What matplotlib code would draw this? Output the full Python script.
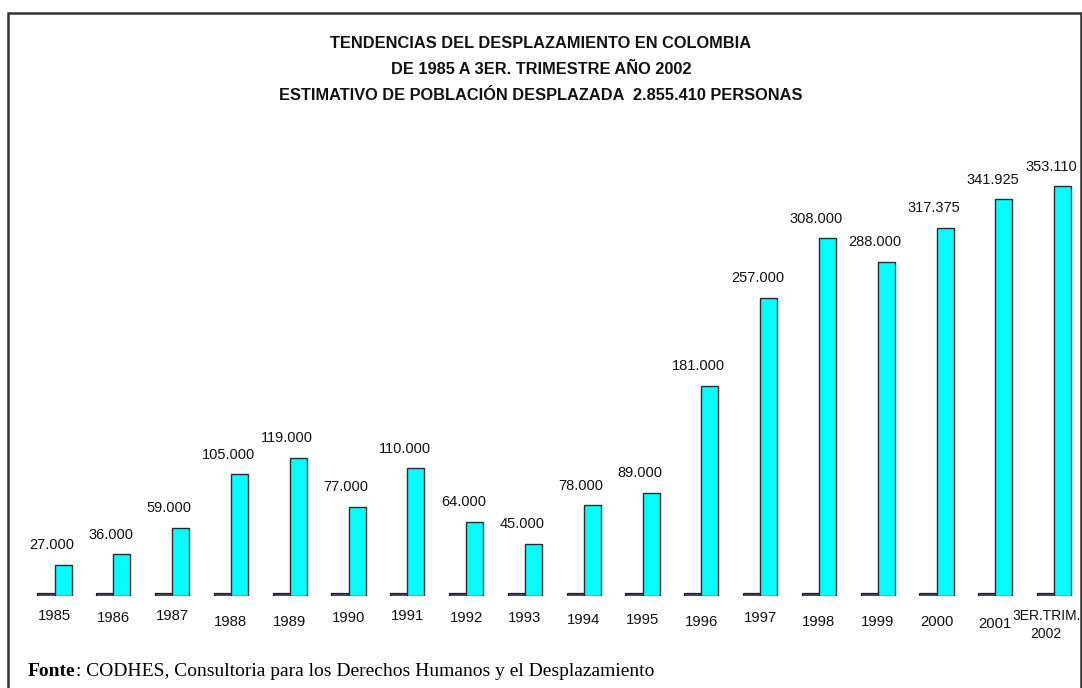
import matplotlib.pyplot as plt
import matplotlib.patches as mpatches
import matplotlib.transforms as mtransforms
import numpy as np

years = ['1985', '1986', '1987', '1988', '1989', '1990', '1991', '1992', '1993',
         '1994', '1995', '1996', '1997', '1998', '1999', '2000', '2001', '3ER.TRIM.\n2002']
desplazados = [27000, 36000, 59000, 105000, 119000, 77000, 110000, 64000, 45000,
               78000, 89000, 181000, 257000, 308000, 288000, 317375, 341925, 353110]
# the flat dark bar next to each cyan bar (almost zero)
serie_base = [2500] * 18
etiquetas = ['27.000', '36.000', '59.000', '105.000', '119.000', '77.000', '110.000', '64.000',
             '45.000', '78.000', '89.000', '181.000', '257.000', '308.000', '288.000',
             '317.375', '341.925', '353.110']

W, H = 1082, 688
fig = plt.figure(figsize=(W / 100, H / 100), dpi=100)
fig.patch.set_facecolor('white')

# axes placed in pixels: groups every ~58.8 px, baseline at y=596
left, right = 31, 1080.6
base, top = 596, 131.6
ax = fig.add_axes([left / W, (H - base) / H, (right - left) / W, (base - top) / H])

x = np.arange(len(years))
w = 0.29
ax.bar(x - w / 2, serie_base, width=w, color='#4b4b6e', edgecolor='#1a1a1a', linewidth=0.9)
ax.bar(x + w / 2, desplazados, width=w, color='#00ffff', edgecolor='#2a2a2a', linewidth=1.0)

for xi, v, t in zip(x, desplazados, etiquetas):
    ax.annotate(t, (xi, v), xytext=(-2, 9), textcoords='offset points',
                ha='center', va='bottom', fontsize=10.5, family='Liberation Sans',
                color='#111111')

ax.set_xlim(-0.4, 17.45)
ax.set_ylim(0, 400000)
ax.set_xticks(x)
ax.set_xticklabels(years, fontsize=10.7, family='Liberation Sans', color='#111111',
                   linespacing=1.45)
ax.tick_params(axis='x', length=0, pad=9)
# the year labels in the original sit at slightly uneven heights (pixels down)
bajada = [0, 2, 0, 6, 6, 2, 0, 3, 3, 4, 4, 7, 2, 7, 6, 6, 9, 0]
for lab, d in zip(ax.get_xticklabels(), bajada):
    lab.set_transform(lab.get_transform() + mtransforms.ScaledTranslation(0, -d / 100, fig.dpi_scale_trans))
# last label sits a bit left of its group, like the original
lab = ax.get_xticklabels()[-1]
lab.set_fontsize(10)
lab.set_transform(lab.get_transform() + mtransforms.ScaledTranslation(-8 / 100, 0, fig.dpi_scale_trans))
ax.set_yticks([])
for s in ax.spines.values():
    s.set_visible(False)

titulo = ['TENDENCIAS DEL DESPLAZAMIENTO EN COLOMBIA',
          'DE 1985 A 3ER. TRIMESTRE AÑO 2002',
          'ESTIMATIVO DE POBLACIÓN DESPLAZADA  2.855.410 PERSONAS']
for i, linea in enumerate(titulo):
    fig.text(541 / W, 1 - (44 + 26 * i) / H, linea, ha='center', va='center',
             fontsize=11.8, fontweight='bold', family='Liberation Sans', color='#111111')

fonte = fig.text(28 / W, 1 - 671 / H, 'Fonte', ha='left', va='center', fontsize=14,
                 fontweight='bold', family='Liberation Serif')
ax.annotate(': CODHES, Consultoria para los Derechos Humanos y el Desplazamiento',
            xy=(1, 0.5), xycoords=fonte, ha='left', va='center', fontsize=14,
            family='Liberation Serif', annotation_clip=False)

# outer frame
fig.patches.append(mpatches.Rectangle((8 / W, -0.05), (1081 - 8) / W, 1 - 13 / H + 0.05,
                                      transform=fig.transFigure, fill=False,
                                      edgecolor='#333333', linewidth=1.8))

fig.savefig('out.png', dpi=100)
